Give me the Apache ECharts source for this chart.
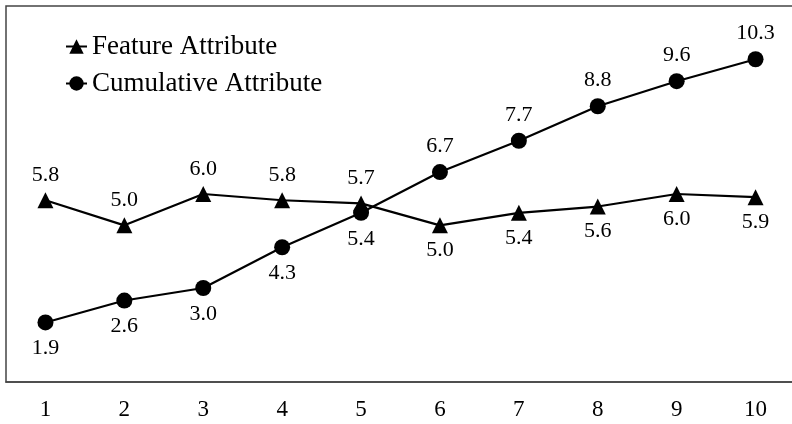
<!DOCTYPE html>
<html>
<head>
<meta charset="utf-8">
<script src="https://cdn.jsdelivr.net/npm/echarts@6/dist/echarts.min.js"></script>
<style>html,body{margin:0;padding:0;background:#fff}#c{width:792px;height:424px}</style>
</head>
<body>
<div id="c"></div>
<script>
var categories = ['1','2','3','4','5','6','7','8','9','10'];
var featureValues = [5.8, 5.0, 6.0, 5.8, 5.7, 5.0, 5.4, 5.6, 6.0, 5.9];
var cumulativeValues = [1.9, 2.6, 3.0, 4.3, 5.4, 6.7, 7.7, 8.8, 9.6, 10.3];
var seriesNames = ['Feature Attribute', 'Cumulative Attribute'];

var FONT = '"Liberation Serif", "Times New Roman", serif';

function withLabels(vals, other, dist) {
  return vals.map(function (v, i) {
    return {
      value: v,
      label: { position: v >= other[i] ? 'top' : 'bottom', distance: dist }
    };
  });
}

var chart = echarts.init(document.getElementById('c'));
chart.setOption({
  animation: false,
  backgroundColor: '#fff',
  grid: {
    left: 6, top: 6, width: 789, height: 376,
    outerBoundsMode: 'none', containLabel: false,
    show: true, borderColor: '#444', borderWidth: 1.5, backgroundColor: 'transparent'
  },
  legend: {
    orient: 'vertical', left: 60, top: 28, itemGap: 10,
    itemWidth: 21, itemHeight: 18,
    textStyle: { fontFamily: FONT, fontSize: 27, color: '#000' },
    data: seriesNames
  },
  xAxis: {
    type: 'category', data: categories, boundaryGap: true,
    axisLine: { lineStyle: { color: '#444', width: 1.5 } },
    axisTick: { inside: true, length: 7, lineStyle: { color: '#444', width: 1.2 } },
    axisLabel: { fontFamily: FONT, fontSize: 23, color: '#000', margin: 16 },
    splitLine: { show: false }
  },
  yAxis: {
    type: 'value', min: 0, max: 12, show: false, splitLine: { show: false }
  },
  series: [
    {
      name: seriesNames[0], type: 'line',
      data: withLabels(featureValues, cumulativeValues, 6),
      symbol: 'triangle', symbolSize: 16,
      lineStyle: { color: '#000', width: 2.2 },
      itemStyle: { color: '#000' },
      label: { show: true, fontFamily: FONT, fontSize: 22, color: '#000',
        formatter: function (p) { return p.value.toFixed(1); } }
    },
    {
      name: seriesNames[1], type: 'line',
      data: withLabels(cumulativeValues, featureValues, 7),
      symbol: 'circle', symbolSize: 16,
      lineStyle: { color: '#000', width: 2.2 },
      itemStyle: { color: '#000' },
      label: { show: true, fontFamily: FONT, fontSize: 22, color: '#000',
        formatter: function (p) { return p.value.toFixed(1); } }
    }
  ]
});
</script>
</body>
</html>
